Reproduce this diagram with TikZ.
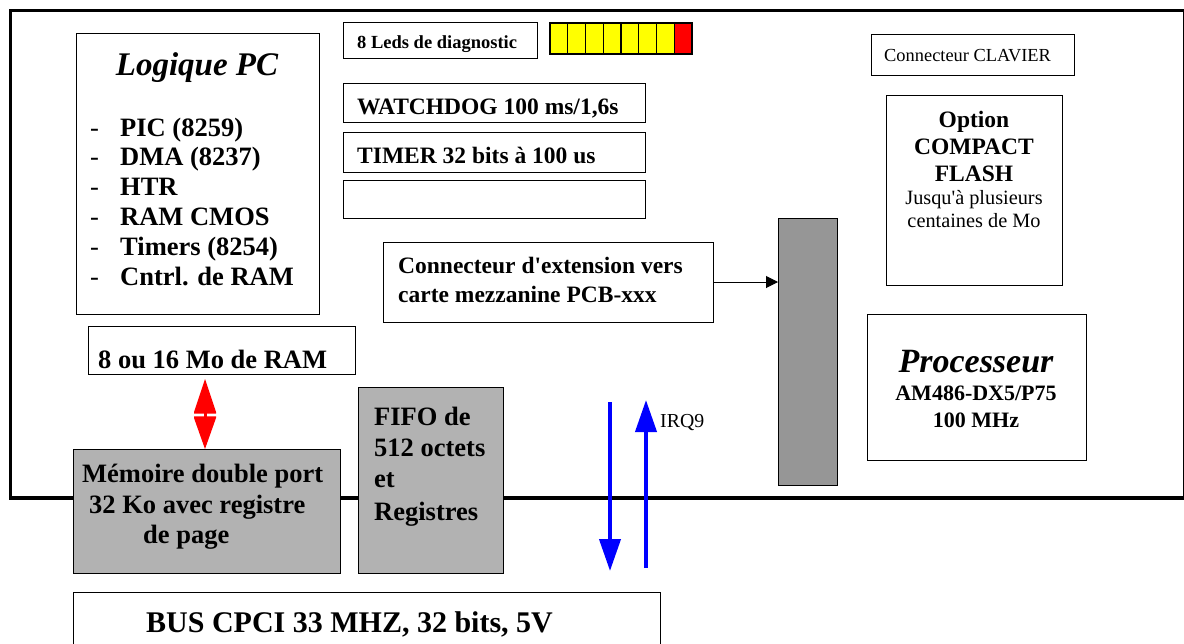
\documentclass[tikz,border=0pt]{standalone}
\usepackage{fontspec}
\setmainfont{Liberation Serif}
\usetikzlibrary{arrows.meta,fit,calc}
\definecolor{bargray}{RGB}{150,150,150}
\definecolor{memgray}{RGB}{178,178,178}
\definecolor{ledyellow}{RGB}{255,255,0}
\definecolor{ledred}{RGB}{255,0,0}
\definecolor{arrowblue}{RGB}{0,0,255}
\begin{document}
\begin{tikzpicture}[x=1pt,y=-1pt,
  box/.style={draw=black, line width=1pt, inner sep=0pt, outer sep=0pt},
  txt/.style={inner sep=0pt, anchor=base west},
  ctxt/.style={inner sep=0pt, anchor=base},
  fbig/.style={font=\fontsize{26.5}{31}\selectfont\bfseries},
  fmed/.style={font=\fontsize{23.5}{28}\selectfont\bfseries},
  fsmall/.style={font=\fontsize{18.5}{21}\selectfont\bfseries},
  freg/.style={font=\fontsize{18.4}{21}\selectfont},
  ledcell/.style={draw=black, line width=1.2pt},
  bluearrow/.style={draw=arrowblue, line width=4pt, -{Triangle[length=32pt,width=21pt]}},
]
\useasboundingbox (0,0) rectangle (1184,643);
\clip (0,0) rectangle (1184,643);
\fill[white] (0,0) rectangle (1184,643);

% board frame
\draw[line width=3.5pt] (10.5,10.5) rectangle (1185,498);

% Logique PC
\node[box, fit={(76,33) (319,314)}] (logic) {};
\node[ctxt, font=\fontsize{33}{38}\selectfont\bfseries\itshape] (logictitle) at (197,75) {Logique PC};
\foreach \t [count=\i] in {PIC (8259), DMA (8237), HTR, RAM CMOS, Timers (8254), Cntrl. de RAM} {
  \node[txt, fbig] (li\i) at (120,{136+(\i-1)*29.8}) {\t};
  \node[txt, font=\fontsize{26.5}{31}\selectfont] (ld\i) at (90,{136+(\i-1)*29.8}) {-};
}

% LEDs
\node[box, fit={(343,22) (537,58)}] (leds) {};
\node[txt, fsmall] (ledstxt) at (357,48) {8 Leds de diagnostic};
\foreach \i/\c in {0/ledyellow,1/ledyellow,2/ledyellow,3/ledyellow,4/ledyellow,5/ledyellow,6/ledyellow,7/ledred} {
  \filldraw[ledcell, fill=\c] ({550+\i*17.75},23) rectangle ({550+(\i+1)*17.75},54);
}

% Watchdog / Timer / empty
\node[box, fit={(343,83) (645,122)}] (wd) {};
\node[txt, fmed] (wdtxt) at (357,114) {WATCHDOG 100 ms/1,6s};
\node[box, fit={(343,132) (645,172)}] (tm) {};
\node[txt, fmed] (tmtxt) at (357,163) {TIMER 32 bits à 100 us};
\node[box, fit={(343,180) (645,218)}] (empty) {};

% Connecteur clavier
\node[box, fit={(871,34) (1074,75)}] (clav) {};
\node[txt, freg] (clavtxt) at (884,61) {Connecteur CLAVIER};

% Compact flash
\node[box, fit={(886,95) (1062,285)}] (cf) {};
\node[ctxt, fmed] (cf1) at (974,127) {Option};
\node[ctxt, fmed] (cf2) at (974,154) {COMPACT};
\node[ctxt, fmed] (cf3) at (974,181) {FLASH};
\node[ctxt, font=\fontsize{20.3}{24}\selectfont] (cf4) at (974,204) {Jusqu\textquotesingle à plusieurs};
\node[ctxt, font=\fontsize{20.3}{24}\selectfont] (cf5) at (974,227) {centaines de Mo};

% Processeur
\node[box, fit={(867,314) (1086,460)}] (cpu) {};
\node[ctxt, font=\fontsize{34}{40}\selectfont\bfseries\itshape] (cpu1) at (976,372) {Processeur};
\node[ctxt, font=\fontsize{22}{26}\selectfont\bfseries] (cpu2) at (976,400) {AM486-DX5/P75};
\node[ctxt, font=\fontsize{22}{26}\selectfont\bfseries] (cpu3) at (976,427) {100 MHz};

% gray bar
\node[box, fill=bargray, fit={(778,218) (837,485)}] (bar) {};

% extension connector
\node[box, fit={(383,242) (713,322)}] (ext) {};
\node[txt, fmed] (ext1) at (398,273) {Connecteur d\textquotesingle extension vers};
\node[txt, fmed] (ext2) at (398,302) {carte mezzanine PCB-xxx};
\draw[line width=1pt, -{Triangle[length=12pt,width=12pt]}] (ext.east) -- (ext.east -| bar.west);

% RAM
\node[box, fit={(88,326) (355,374)}] (ram) {};
\node[txt, fbig] (ramtxt) at (98,368) {8 ou 16 Mo de RAM};

% dual port memory
\node[box, fill=memgray, fit={(73,449) (340,573)}] (mem) {};
\node[txt, fbig] (mem1) at (82,482) {Mémoire double port};
\node[txt, fbig] (mem2) at (89,513) {32 Ko avec registre};
\node[txt, fbig] (mem3) at (143,543) {de page};

% FIFO
\node[box, fill=memgray, fit={(358,387) (503,573)}] (fifo) {};
\node[txt, fbig] (fifo1) at (374,425) {FIFO de};
\node[txt, fbig] (fifo2) at (374,456) {512 octets};
\node[txt, fbig] (fifo3) at (374,487) {et};
\node[txt, fbig] (fifo4) at (374,520) {Registres};

% red double arrow between RAM and dual port memory
\coordinate (rtop) at (205,379);
\coordinate (rbot) at (mem.north -| rtop);
\fill[ledred] (rtop) -- ++(-11,33) -- ++(0,1.6) -- ++(22,0) -- ++(0,-1.6) -- cycle;
\fill[ledred] (rbot) -- ++(-11,-31) -- ++(0,-1.6) -- ++(22,0) -- ++(0,1.6) -- cycle;
\fill[ledred] ($(rtop)+(-1.5,34)$) rectangle ($(rbot)+(1.5,-32)$);

% BUS
\node[box, fit={(73,592) (660,680)}] (bus) {};
\node[txt, font=\fontsize{30}{34}\selectfont\bfseries] (bustxt) at (146,632) {BUS CPCI 33 MHZ, 32 bits, 5V};

% blue arrows
\coordinate (d1) at (610,402);
\coordinate (d2) at (610,571);
\coordinate (u1) at (646,568);
\coordinate (u2) at (646,400);
\draw[bluearrow] (d1) -- (d2);
\draw[bluearrow] (u1) -- (u2);
\node[txt, font=\fontsize{19.8}{23}\selectfont] (irq) at (660,427) {IRQ9};
\end{tikzpicture}
\end{document}
